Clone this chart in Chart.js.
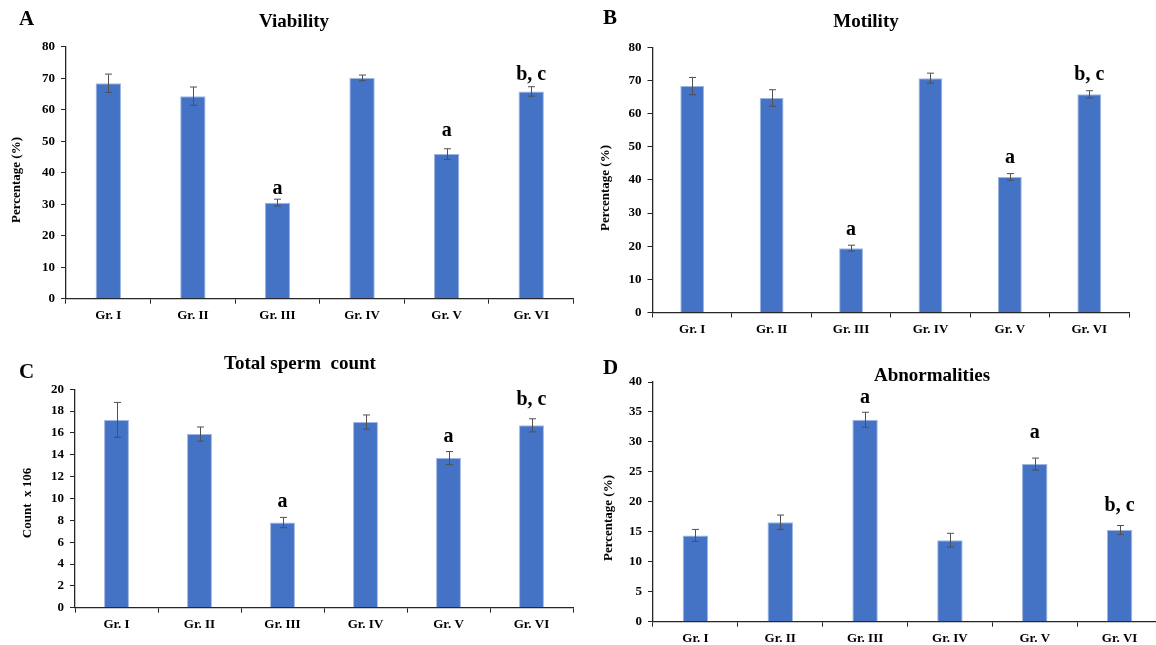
<!DOCTYPE html>
<html>
<head>
<meta charset="utf-8">
<script src="https://cdn.jsdelivr.net/npm/chart.js@4"></script>
<style>
  html, body { margin: 0; padding: 0; background: #fff; }
  body { width: 1156px; height: 645px; overflow: hidden; position: relative; }
  canvas { position: absolute; }
</style>
</head>
<body>
<canvas id="chart-a" width="580" height="350" style="left:0;top:0"></canvas>
<canvas id="chart-b" width="576" height="350" style="left:580px;top:0"></canvas>
<canvas id="chart-c" width="580" height="295" style="left:0;top:350px"></canvas>
<canvas id="chart-d" width="600" height="295" style="left:580px;top:350px"></canvas>
<script>
// group labels shared by all four panels
const groups = ["Gr. I", "Gr. II", "Gr. III", "Gr. IV", "Gr. V", "Gr. VI"];
const sigLetters = ["", "", "a", "", "a", "b, c"];

// A - viability
const viability = [68.4, 64.3, 30.5, 70.1, 45.9, 65.8];
const viabilityErr = [2.9, 2.9, 1.1, 0.9, 1.7, 1.5];
const viabilityLetterAt = [null, null, 33.2, null, 51.7, 69.4];

// B - motility
const motility = [68.3, 64.7, 19.4, 70.7, 40.9, 65.8];
const motilityErr = [2.6, 2.5, 0.9, 1.5, 1.0, 1.1];
const motilityLetterAt = [null, null, 23.3, null, 45.1, 70.2];

// C - total sperm count
const spermCount = [17.2, 15.9, 7.8, 17.0, 13.7, 16.7];
const spermCountErr = [1.6, 0.65, 0.47, 0.65, 0.6, 0.6];
const spermCountLetterAt = [null, null, 9.25, null, 15.2, 18.56];

// D - abnormalities
const abnormal = [14.4, 16.6, 33.7, 13.6, 26.3, 15.3];
const abnormalErr = [1.0, 1.2, 1.25, 1.15, 1.0, 0.75];
const abnormalLetterAt = [null, null, 36.5, null, 30.7, 18.5];

const FONT = "'Liberation Serif', 'Times New Roman', serif";
const BAR = "#4472c4";
const AXIS = "#262626";

// draws error bars, significance letters, panel letter, title, y title
const extras = {
  id: "extras",
  afterDatasetsDraw(chart) {
    const cfg = chart.options.plugins.extras;
    const ctx = chart.ctx;
    const y = chart.scales.y;
    const bars = chart.getDatasetMeta(0).data;
    ctx.save();
    // error bars
    ctx.strokeStyle = "#505050";
    ctx.lineWidth = 1;
    bars.forEach((bar, i) => {
      const v = cfg.values[i], e = cfg.errors[i];
      const top = y.getPixelForValue(v + e);
      const bot = y.getPixelForValue(v - e);
      const x = Math.round(bar.x) + 0.5;
      ctx.beginPath();
      ctx.moveTo(x, top); ctx.lineTo(x, bot);
      ctx.moveTo(x - 3.5, top); ctx.lineTo(x + 3.5, top);
      ctx.moveTo(x - 3.5, bot); ctx.lineTo(x + 3.5, bot);
      ctx.stroke();
    });
    // significance letters
    ctx.fillStyle = "#000";
    ctx.font = "bold 20px " + FONT;
    ctx.textAlign = "center";
    ctx.textBaseline = "alphabetic";
    bars.forEach((bar, i) => {
      if (!cfg.letters[i]) return;
      ctx.fillText(cfg.letters[i], bar.x, y.getPixelForValue(cfg.letterAt[i]));
    });
    // panel letter and title
    const ox = cfg.origin[0], oy = cfg.origin[1];
    ctx.textBaseline = "middle";
    ctx.textAlign = "left";
    ctx.font = "bold 21px " + FONT;
    ctx.fillText(cfg.panel, cfg.panelAt[0] - ox, cfg.panelAt[1] - oy);
    ctx.textAlign = "center";
    ctx.font = "bold 19px " + FONT;
    ctx.fillText(cfg.title, cfg.titleAt[0] - ox, cfg.titleAt[1] - oy);
    // y axis title
    ctx.font = "bold 13px " + FONT;
    ctx.translate(cfg.yTitleAt[0] - ox, cfg.yTitleAt[1] - oy);
    ctx.rotate(-Math.PI / 2);
    ctx.fillText(cfg.yTitle, 0, 0);
    ctx.restore();
  },
};

// area = [left, top, right, bottom] of the plot in page pixels
function makePanel(id, origin, size, area, values, errors, letterAt, yMax, yStep, text) {
  const left = area[0] - origin[0];
  const xHeight = origin[1] + size[1] - area[3];
  return new Chart(document.getElementById(id), {
    type: "bar",
    data: {
      labels: groups,
      datasets: [
        {
          data: values,
          backgroundColor: BAR,
          borderColor: "#9fb6e3",
          borderWidth: 1,
          categoryPercentage: 1,
          barPercentage: 0.3,
        },
      ],
    },
    options: {
      responsive: false,
      animation: false,
      layout: {
        padding: {
          left: 0,
          top: area[1] - origin[1],
          right: origin[0] + size[0] - area[2],
          bottom: 0,
        },
      },
      plugins: {
        legend: { display: false },
        tooltip: { enabled: false },
        extras: {
          values, errors, letterAt,
          letters: sigLetters,
          origin,
          panel: text.panel, panelAt: text.panelAt,
          title: text.title, titleAt: text.titleAt,
          yTitle: text.yTitle, yTitleAt: text.yTitleAt,
        },
      },
      scales: {
        x: {
          offset: true,
          afterFit: (s) => { s.height = xHeight; },
          grid: {
            offset: true,
            drawOnChartArea: false,
            drawTicks: true,
            tickLength: 5,
            color: AXIS,
          },
          border: { color: AXIS, width: 1.3 },
          ticks: {
            color: "#000",
            padding: 4,
            font: { family: FONT, size: 13, weight: "bold" },
          },
        },
        y: {
          min: 0,
          max: yMax,
          afterFit: (s) => { s.width = left; },
          grid: { drawOnChartArea: false, tickLength: 5, color: AXIS },
          border: { color: AXIS, width: 1.3 },
          ticks: {
            stepSize: yStep,
            color: "#000",
            padding: 6,
            font: { family: FONT, size: 13, weight: "bold" },
          },
        },
      },
    },
    plugins: [extras],
  });
}

makePanel("chart-a", [0, 0], [580, 350], [66, 46.7, 573.5, 298.7],
  viability, viabilityErr, viabilityLetterAt, 80, 10,
  { panel: "A", panelAt: [19, 20], title: "Viability", titleAt: [294, 22],
    yTitle: "Percentage (%)", yTitleAt: [17, 180] });

makePanel("chart-b", [580, 0], [576, 350], [652.5, 47.3, 1129, 312.5],
  motility, motilityErr, motilityLetterAt, 80, 10,
  { panel: "B", panelAt: [603, 19], title: "Motility", titleAt: [866, 22],
    yTitle: "Percentage (%)", yTitleAt: [606, 188] });

makePanel("chart-c", [0, 350], [580, 295], [75, 389.3, 573, 607.7],
  spermCount, spermCountErr, spermCountLetterAt, 20, 2,
  { panel: "C", panelAt: [19, 373], title: "Total sperm  count", titleAt: [300, 364],
    yTitle: "Count  x 106", yTitleAt: [28, 503] });

makePanel("chart-d", [580, 350], [600, 295], [653, 382, 1162, 621.7],
  abnormal, abnormalErr, abnormalLetterAt, 40, 5,
  { panel: "D", panelAt: [603, 369], title: "Abnormalities", titleAt: [932, 376],
    yTitle: "Percentage (%)", yTitleAt: [609, 518] });
</script>
</body>
</html>
